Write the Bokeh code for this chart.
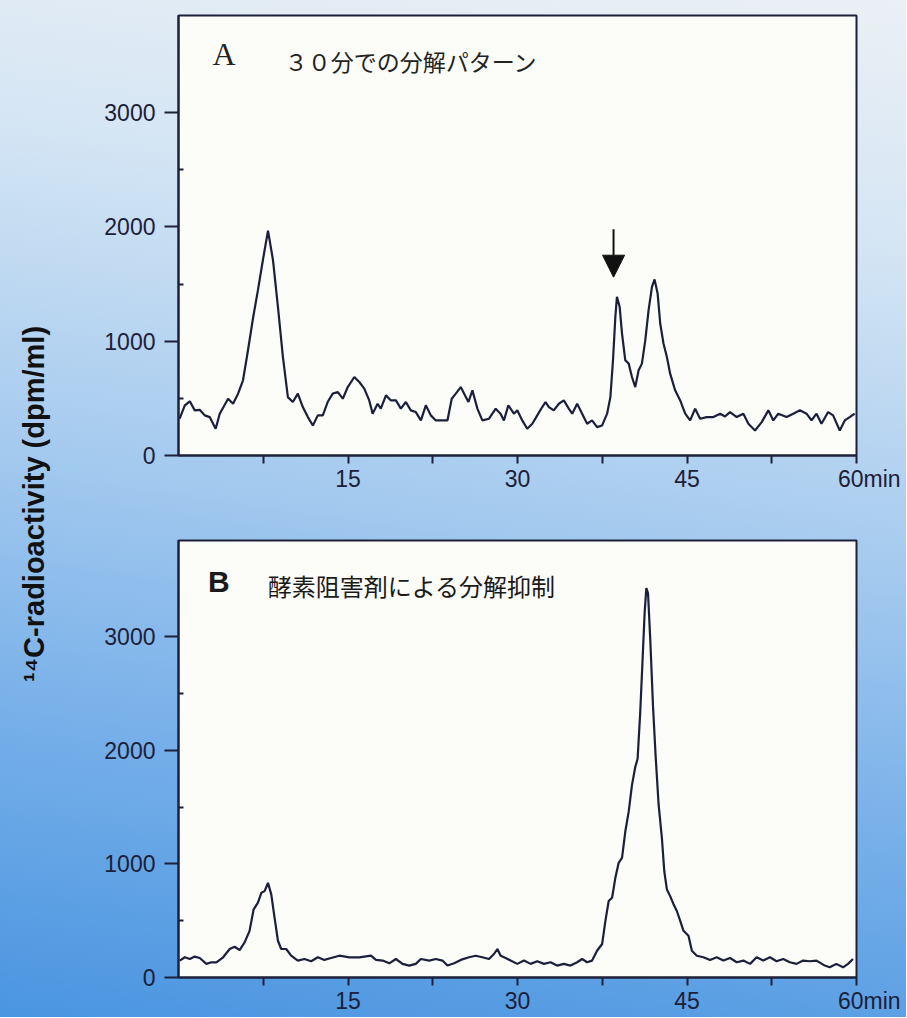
from bokeh.plotting import figure
from bokeh.layouts import row, column
from bokeh.models import FixedTicker, Label, Arrow, NormalHead, Range1d, ColumnDataSource
from bokeh.embed import file_html
from bokeh.resources import INLINE

# ---------------- data ----------------
x_ticks = [7.5, 15, 22.5, 30, 37.5, 45, 52.5, 60]
x_tick_labels = ["", "15", "", "30", "", "45", "", "\u00a0\u00a0\u00a0\u00a060min"]
y_ticks = [0, 1000, 2000, 3000]
y_minor_ticks = [500, 1500, 2500]
y_label = "¹⁴C-radioactivity (dpm/ml)"
title_a_letter = "A"
title_a_text = "３０分での分解パターン"
title_b_letter = "B"
title_b_text = "酵素阻害剤による分解抑制"

time_a = [0.1, 0.56, 1.0, 1.44, 1.88, 2.32, 2.76, 3.29, 3.65, 4.39, 4.83, 5.27, 5.71, 6.15, 6.59,
          7.03, 7.47, 7.92, 8.36, 8.80, 9.24, 9.68, 10.12, 10.56, 11.0, 11.45, 11.89, 12.33, 12.77,
          13.2, 13.65, 14.1, 14.54, 14.98, 15.56, 16.0, 16.44, 16.88, 17.18, 17.62, 17.9, 18.36,
          18.8, 19.24, 19.68, 20.12, 20.56, 21.0, 21.45, 21.89, 22.33, 22.77, 23.36, 23.8, 24.18,
          24.54, 24.98, 25.36, 25.66, 26.01, 26.45, 26.89, 27.48, 28.07, 28.5, 28.8, 29.19, 29.68,
          29.98, 30.42, 30.86, 31.31, 31.75, 32.19, 32.48, 32.78, 33.21, 33.66, 34.1, 34.54, 34.84,
          35.28, 35.72, 36.16, 36.6, 37.04, 37.49, 37.93, 38.22, 38.45, 38.66, 38.8, 39.04, 39.25,
          39.54, 39.84, 40.13, 40.42, 40.72, 41.01, 41.31, 41.6, 41.9, 42.13, 42.4, 42.63, 42.92,
          43.22, 43.51, 43.95, 44.4, 44.84, 45.28, 45.72, 46.16, 46.75, 47.34, 47.93, 48.37, 48.81,
          49.4, 49.99, 50.43, 51.02, 51.61, 52.2, 52.64, 53.08, 53.81, 54.4, 54.99, 55.58, 56.02,
          56.46, 56.9, 57.49, 57.93, 58.52, 58.96, 59.4, 59.84]
dpm_a = [322, 439, 474, 395, 400, 351, 336, 234, 366, 497, 453, 541, 658, 921, 1199,
         1447, 1711, 1968, 1711, 1301, 862, 511, 468, 541, 424, 336, 263, 351, 351,
         468, 541, 555, 497, 599, 687, 643, 585, 482, 366, 453, 410, 526,
         482, 482, 410, 468, 395, 380, 307, 439, 351, 307, 307, 307, 497,
         541, 599, 526, 468, 570, 410, 307, 322, 410, 366, 307, 439, 366,
         395, 307, 234, 278, 351, 424, 468, 424, 395, 453, 482, 410, 366,
         453, 366, 278, 307, 248, 263, 366, 511, 833, 1213, 1389, 1301, 1067,
         833, 804, 687, 599, 746, 804, 1009, 1272, 1476, 1541, 1418, 1155, 980,
         862, 716, 570, 482, 366, 307, 410, 322, 336, 336, 366, 342, 380,
         336, 366, 278, 219, 292, 395, 307, 366, 336, 366, 395, 366, 307,
         366, 278, 380, 351, 219, 307, 336, 366]

time_b = [0.11, 0.56, 1.0, 1.44, 1.88, 2.47, 2.91, 3.35, 3.95, 4.53, 4.97, 5.41, 5.85, 6.29, 6.65,
          7.03, 7.33, 7.62, 7.92, 8.21, 8.5, 8.8, 9.09, 9.53, 9.97, 10.56, 11.15, 11.74, 12.33,
          12.91, 13.5, 14.24, 15.12, 16.0, 17.03, 17.48, 18.07, 18.65, 19.24, 19.83, 20.42, 21.0,
          21.45, 22.18, 22.77, 23.36, 23.8, 24.39, 24.98, 25.71, 26.3, 26.89, 27.48, 27.92, 28.22,
          28.51, 28.95, 29.39, 29.98, 30.57, 31.16, 31.75, 32.34, 32.92, 33.51, 34.1, 34.69, 35.28,
          35.72, 36.16, 36.6, 37.04, 37.49, 37.78, 38.07, 38.37, 38.66, 38.95, 39.25, 39.54, 39.84,
          40.13, 40.42, 40.63, 40.86, 41.07, 41.25, 41.4, 41.55, 41.75, 41.99, 42.22, 42.49, 42.78,
          42.99, 43.22, 43.51, 43.81, 44.1, 44.4, 44.69, 45.13, 45.43, 45.87, 46.45, 47.04, 47.63,
          48.22, 48.81, 49.4, 49.99, 50.58, 51.16, 51.75, 52.34, 52.93, 53.51, 54.1, 54.69, 55.28,
          55.87, 56.46, 57.19, 57.63, 58.22, 58.81, 59.25, 59.69]
dpm_b = [149, 178, 163, 184, 172, 120, 134, 134, 178, 251, 271, 242, 309, 411, 601,
         659, 746, 761, 834, 732, 528, 324, 251, 251, 192, 149, 163, 143, 178,
         155, 172, 192, 178, 178, 192, 155, 149, 125, 163, 120, 105, 120,
         163, 149, 163, 149, 105, 125, 155, 178, 192, 178, 163, 207, 251,
         192, 172, 149, 120, 149, 120, 143, 120, 134, 105, 120, 105, 134,
         163, 134, 149, 236, 295, 499, 674, 703, 878, 1009, 1053, 1286, 1461,
         1695, 1855, 1927, 2336, 2802, 3211, 3430, 3386, 2977, 2395, 1957, 1520, 1227,
         936, 776, 717, 645, 586, 499, 411, 367, 236, 192, 178, 155, 178,
         149, 172, 134, 149, 120, 178, 149, 178, 143, 163, 134, 120, 149,
         143, 149, 105, 90, 120, 90, 120, 163]

arrow_time = 38.5
arrow_from = 1980
arrow_to = 1560

# ---------------- styling ----------------
INK = "#1c2038"
LINE = "#1b1f3c"
FRAME_BG = "#fcfcf8"
TICK_FONT = "Liberation Sans"
CJK_FONT = "Noto Sans CJK JP"
PANEL_W = 838


def make_panel(t, v, height, top, bottom):
    p = figure(width=PANEL_W, height=height, output_backend="svg", toolbar_location=None,
               x_range=Range1d(0, 60), y_range=Range1d(0, 3850),
               min_border_left=110, min_border_right=PANEL_W - 110 - 678,
               min_border_top=top, min_border_bottom=bottom)
    p.border_fill_color = None
    p.background_fill_color = FRAME_BG
    p.outline_line_color = INK
    p.outline_line_width = 2
    p.grid.visible = False

    src = ColumnDataSource(dict(t=t, v=v))
    p.line("t", "v", source=src, line_color=LINE, line_width=2.2)

    xa = p.xaxis[0]
    xa.ticker = FixedTicker(ticks=x_ticks)
    xa.major_label_overrides = {tk: lb for tk, lb in zip(x_ticks, x_tick_labels)}
    xa.axis_line_color = INK
    xa.axis_line_width = 2
    xa.major_tick_line_color = INK
    xa.major_tick_line_width = 2
    xa.major_tick_out = 8
    xa.major_tick_in = 0
    xa.minor_tick_line_color = None
    xa.major_label_standoff = 2
    xa.major_label_text_font = TICK_FONT
    xa.major_label_text_font_size = "23px"
    xa.major_label_text_color = INK

    ya = p.yaxis[0]
    ya.ticker = FixedTicker(ticks=y_ticks, minor_ticks=y_minor_ticks)
    ya.axis_line_color = INK
    ya.axis_line_width = 2
    ya.major_tick_line_color = INK
    ya.major_tick_line_width = 2
    ya.major_tick_out = 14
    ya.major_tick_in = 0
    ya.minor_tick_line_color = INK
    ya.minor_tick_line_width = 2
    ya.minor_tick_in = 5
    ya.minor_tick_out = 0
    ya.major_label_standoff = 9
    ya.major_label_text_font = TICK_FONT
    ya.major_label_text_font_size = "23px"
    ya.major_label_text_color = INK
    return p


pa = make_panel(time_a, dpm_a, 525, 15, 70)
pb = make_panel(time_b, dpm_b, 492, 15, 40)

pa.add_layout(Label(x=3.0, y=3510, text=title_a_letter, text_font="Liberation Serif",
                    text_font_size="32px", text_color="#222222", text_baseline="middle"))
pa.add_layout(Label(x=9.4, y=3450, text=title_a_text, text_font=CJK_FONT,
                    text_font_size="23px", text_color="#222222", text_baseline="middle"))
pa.add_layout(Arrow(x_start=arrow_time, y_start=arrow_from, x_end=arrow_time, y_end=arrow_to,
                    line_color="#111111", line_width=2,
                    end=NormalHead(size=22, fill_color="#111111", line_color="#111111")))

pb.add_layout(Label(x=2.6, y=3490, text=title_b_letter, text_font="Liberation Sans",
                    text_font_style="bold", text_font_size="30px", text_color="#1a1a1a",
                    text_baseline="middle"))
pb.add_layout(Label(x=7.9, y=3450, text=title_b_text, text_font=CJK_FONT,
                    text_font_size="24px", text_color="#1a1a1a", text_baseline="middle"))

# left label strip
pl = figure(width=68, height=1017, output_backend="svg", toolbar_location=None,
            x_range=Range1d(0, 1), y_range=Range1d(0, 1), min_border=0,
            x_axis_location=None, y_axis_location=None)
pl.border_fill_color = None
pl.background_fill_color = None
pl.outline_line_color = None
pl.grid.visible = False
pl.add_layout(Label(x=0.49, y=0.505, text=y_label, angle=1.5708,
                    text_font="Liberation Sans", text_font_style="bold",
                    text_font_size="29px", text_color="#111111",
                    text_align="center", text_baseline="middle"))

layout = row(pl, column(pa, pb, spacing=0), spacing=0,
             styles={"background": "linear-gradient(188deg, #ebf0f5 0%, #d4e5f4 22%, #a8ccef 48%, #76afe9 74%, #4a95e0 100%)"})

open("out.html", "w").write(file_html(layout, INLINE))
